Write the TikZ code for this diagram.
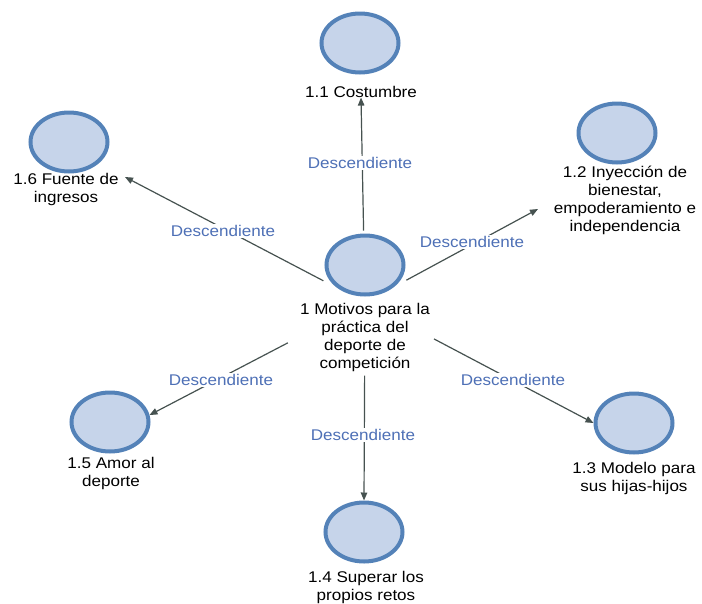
\documentclass[tikz,border=0pt]{standalone}
\usepackage{fontspec}
\setmainfont{Liberation Sans}[FakeStretch=1.1]
\usetikzlibrary{arrows.meta,calc,fit,shapes.geometric}

\definecolor{bubblefill}{RGB}{198,212,234}
\definecolor{bubbleline}{RGB}{84,130,184}
\definecolor{linkgray}{RGB}{70,82,80}
\definecolor{linkblue}{RGB}{78,112,182}

% fixed first-line height so captions can be placed by their baseline
\newcommand\capstrut{\rule{0pt}{14pt}}

\begin{document}
\begin{tikzpicture}[x=1pt,y=-1pt,
  bubble/.style={ellipse, draw=bubbleline, fill=bubblefill, line width=4pt,
    minimum width=77pt, minimum height=59pt, inner sep=0},
  caption/.style={align=center, inner sep=0, anchor=north,
    font=\fontsize{15.5}{18}\selectfont},
  link/.style={draw=linkgray, line width=1.2pt, -{Triangle[length=8pt,width=6.5pt]}},
  linklabel/.style={fill=white, text=linkblue, inner sep=1.5pt,
    font=\fontsize{15.5}{18}\selectfont}]
\useasboundingbox (0,0) rectangle (702,603);

% central concept
\node[bubble] (c0) at (365,265) {};
\node[caption] (t0) at (365,300) {\capstrut 1 Motivos para la\\práctica del\\deporte de\\competición};
\node[fit=(c0)(t0), inner sep=0] (g0) {};

% sub-concepts
\node[bubble] (c11) at (360,43) {};
\node[caption] (t11) at (361,83) {\capstrut 1.1 Costumbre};

\node[bubble] (c12) at (617,133) {};
\node[caption] (t12) at (625,163) {\capstrut 1.2 Inyección de\\bienestar,\\empoderamiento e\\independencia};

\node[bubble] (c13) at (634,423) {};
\node[caption] (t13) at (634,459) {\capstrut 1.3 Modelo para\\sus hijas-hijos};

\node[bubble] (c14) at (364,532) {};
\node[caption] (t14) at (366,568) {\capstrut 1.4 Superar los\\propios retos};

\node[bubble] (c15) at (110,422) {};
\node[caption] (t15) at (111,454) {\capstrut 1.5 Amor al\\deporte};

\node[bubble] (c16) at (69,142) {};
\node[caption] (t16) at (66,170) {\capstrut 1.6 Fuente de\\ingresos};

% arrow tips
\coordinate (p11) at (t11.south);
\coordinate (p12) at ($(c12)+(-79,76)$);
\coordinate (p13) at (c13.west);
\coordinate (p14) at (c14.north);
\coordinate (p15) at (c15.10);
\coordinate (p16) at ($(c16)+(56,35)$);

% links from the central concept
\draw[link, shorten <=72pt] (g0.center) -- (p11);
\draw[link, shorten <=47pt] (g0.center) -- (p12);
\draw[link, shorten <=78pt] (g0.center) -- (p13);
\draw[link, shorten <=73pt] (g0.center) -- (p14);
\draw[link, shorten <=87pt] (g0.center) -- (p15);
\draw[link, shorten <=47pt] (g0.center) -- (p16);

% link labels
\node[linklabel] (d11) at (360,163) {Descendiente};
\node[linklabel] (d12) at (472,242) {Descendiente};
\node[linklabel] (d13) at (513,380) {Descendiente};
\node[linklabel] (d14) at (363,435) {Descendiente};
\node[linklabel] (d15) at (221,380) {Descendiente};
\node[linklabel] (d16) at (223,231) {Descendiente};
\end{tikzpicture}
\end{document}
